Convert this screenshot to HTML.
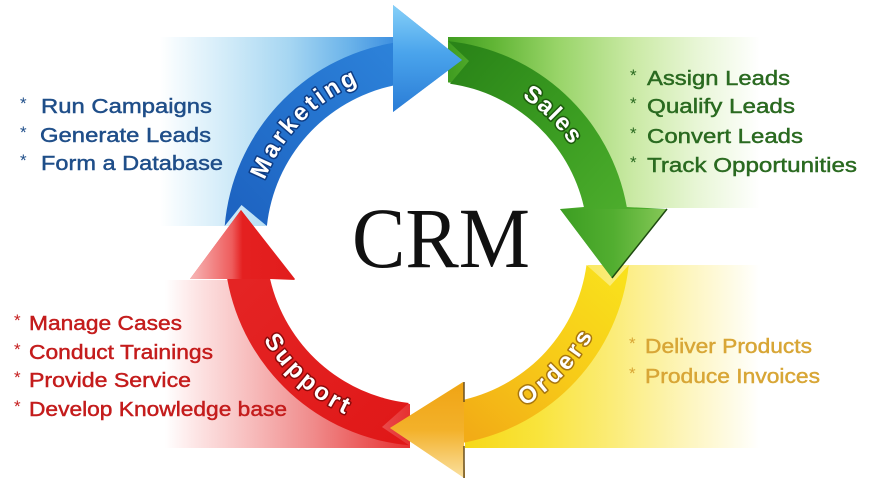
<!DOCTYPE html>
<html>
<head>
<meta charset="utf-8">
<style>
  html,body{margin:0;padding:0;background:#fff;}
  svg{display:block;}
  .lst{font-family:"Liberation Sans",Arial,sans-serif;font-size:20px;stroke-width:0.45px;}
  .lbl{font-family:"Liberation Sans",Arial,sans-serif;font-size:24px;font-weight:bold;fill:#fff;paint-order:stroke;stroke-width:3px;stroke-linejoin:round;}
</style>
</head>
<body>
<svg width="870" height="491" viewBox="0 0 870 491" xmlns="http://www.w3.org/2000/svg">
  <defs>
    <linearGradient id="gBlueBg" gradientUnits="userSpaceOnUse" x1="160" y1="0" x2="395" y2="0">
      <stop offset="0" stop-color="#ffffff"/>
      <stop offset="0.1" stop-color="#eef8fd"/>
      <stop offset="0.3" stop-color="#cfeaf8"/>
      <stop offset="0.55" stop-color="#a6d6f2"/>
      <stop offset="0.8" stop-color="#6cb4ea"/>
      <stop offset="1" stop-color="#3d8fe0"/>
    </linearGradient>
    <linearGradient id="gGreenBg" gradientUnits="userSpaceOnUse" x1="448" y1="0" x2="760" y2="0">
      <stop offset="0" stop-color="#3f9c20"/>
      <stop offset="0.15" stop-color="#62b636"/>
      <stop offset="0.35" stop-color="#98d468"/>
      <stop offset="0.6" stop-color="#cbeaa6"/>
      <stop offset="0.8" stop-color="#e8f6d6"/>
      <stop offset="1" stop-color="#ffffff"/>
    </linearGradient>
    <linearGradient id="gYellowBg" gradientUnits="userSpaceOnUse" x1="465" y1="0" x2="760" y2="0">
      <stop offset="0" stop-color="#f6d818"/>
      <stop offset="0.25" stop-color="#f9e43c"/>
      <stop offset="0.5" stop-color="#fbec78"/>
      <stop offset="0.75" stop-color="#fdf5bc"/>
      <stop offset="1" stop-color="#ffffff"/>
    </linearGradient>
    <linearGradient id="gRedBg" gradientUnits="userSpaceOnUse" x1="165" y1="0" x2="410" y2="0">
      <stop offset="0" stop-color="#ffffff"/>
      <stop offset="0.12" stop-color="#fde6e6"/>
      <stop offset="0.35" stop-color="#f7bcbc"/>
      <stop offset="0.6" stop-color="#f08c8c"/>
      <stop offset="0.85" stop-color="#ea5252"/>
      <stop offset="1" stop-color="#e63030"/>
    </linearGradient>

    <linearGradient id="gBlue" gradientUnits="userSpaceOnUse" x1="230" y1="225" x2="430" y2="40">
      <stop offset="0" stop-color="#1d62c0"/>
      <stop offset="0.5" stop-color="#2574cf"/>
      <stop offset="1" stop-color="#2f86dc"/>
    </linearGradient>
    <linearGradient id="gBlueHead" gradientUnits="userSpaceOnUse" x1="0" y1="5" x2="0" y2="112">
      <stop offset="0" stop-color="#86d0f8"/>
      <stop offset="0.45" stop-color="#4aa4ec"/>
      <stop offset="1" stop-color="#2a7cd6"/>
    </linearGradient>
    <linearGradient id="gGreen" gradientUnits="userSpaceOnUse" x1="450" y1="60" x2="620" y2="210">
      <stop offset="0" stop-color="#2a8418"/>
      <stop offset="0.6" stop-color="#3c9e22"/>
      <stop offset="1" stop-color="#4cac2c"/>
    </linearGradient>
    <linearGradient id="gGreenHead" gradientUnits="userSpaceOnUse" x1="560" y1="0" x2="667" y2="0">
      <stop offset="0" stop-color="#3c9e22"/>
      <stop offset="0.5" stop-color="#52ae30"/>
      <stop offset="1" stop-color="#86c858"/>
    </linearGradient>
    <linearGradient id="gYellow" gradientUnits="userSpaceOnUse" x1="610" y1="270" x2="465" y2="430">
      <stop offset="0" stop-color="#f9e01c"/>
      <stop offset="0.5" stop-color="#f7ca18"/>
      <stop offset="1" stop-color="#f2ac16"/>
    </linearGradient>
    <linearGradient id="gYellowHead" gradientUnits="userSpaceOnUse" x1="0" y1="382" x2="0" y2="478">
      <stop offset="0" stop-color="#f0a414"/>
      <stop offset="0.5" stop-color="#f3b12a"/>
      <stop offset="1" stop-color="#fae0a0"/>
    </linearGradient>
    <linearGradient id="gRed" gradientUnits="userSpaceOnUse" x1="400" y1="440" x2="240" y2="280">
      <stop offset="0" stop-color="#e01818"/>
      <stop offset="1" stop-color="#e42424"/>
    </linearGradient>
    <linearGradient id="gRedHead" gradientUnits="userSpaceOnUse" x1="190" y1="0" x2="295" y2="0">
      <stop offset="0" stop-color="#f7b8b8"/>
      <stop offset="0.4" stop-color="#ee5c5c"/>
      <stop offset="0.5" stop-color="#e42020"/>
      <stop offset="1" stop-color="#e21c1c"/>
    </linearGradient>

    <path id="pM" d="M 259.5 290.1 A 174 174 0 0 1 470.0 74.4" fill="none"/>
    <path id="pS" d="M 380.8 75.2 A 174 174 0 0 1 595.4 286.9" fill="none"/>
    <path id="pO" d="M 382.3 427.7 A 190 190 0 0 0 609.3 189.4" fill="none"/>
    <path id="pSu" d="M 241.2 203.5 A 190 190 0 0 0 485.7 423.7" fill="none"/>
  </defs>

  <rect x="0" y="0" width="870" height="491" fill="#ffffff"/>

  <!-- quadrant gradient backgrounds -->
  <rect x="160" y="37" width="235" height="189" fill="url(#gBlueBg)"/>
  <rect x="448" y="37" width="312" height="171" fill="url(#gGreenBg)"/>
  <rect x="465" y="265" width="295" height="183" fill="url(#gYellowBg)"/>
  <rect x="165" y="280" width="245" height="168" fill="url(#gRedBg)"/>
  <circle cx="427" cy="243" r="162" fill="#ffffff"/>

  <!-- Blue (Marketing) arrow -->
  <path d="M 224.7 226 A 203 203 0 0 1 393 42.9 L 393 5 L 462 60 L 393 112 L 393 85.6 A 161 161 0 0 0 266.9 226 L 241.5 205 Z" fill="url(#gBlue)"/>
  <polygon points="393,5 462,60 393,112" fill="url(#gBlueHead)"/>

  <!-- Green (Sales) arrow -->
  <path d="M 448 41.1 A 203 203 0 0 1 626.8 207 L 667 209 L 612 278 L 560 209 L 583.9 207 A 161 161 0 0 0 450 83.7 L 469 61 Z" fill="url(#gGreen)"/>
  <polygon points="560,209 667,209 612,278" fill="url(#gGreenHead)"/>
  <line x1="667" y1="209" x2="612" y2="278" stroke="#1e4a10" stroke-width="1.5"/>

  <!-- Yellow (Orders) arrow -->
  <path d="M 628.8 265 A 203 203 0 0 1 464 442.6 L 465 478 L 390 428 L 463 382 L 464 399.7 A 161 161 0 0 0 586.5 265 L 610 286 Z" fill="url(#gYellow)"/>
  <polygon points="464,382 464,478 390,428" fill="url(#gYellowHead)"/>
  <line x1="464" y1="382" x2="464" y2="402" stroke="#6a5020" stroke-width="1.5"/>
  <line x1="464" y1="446" x2="464" y2="478" stroke="#6a5020" stroke-width="1.5"/>

  <!-- Red (Support) arrow -->
  <path d="M 409 445.2 A 203 203 0 0 1 227.2 279 L 190 279 L 241 210 L 295 280 L 270.1 279 A 161 161 0 0 0 409 403 L 382 427 Z" fill="url(#gRed)"/>
  <polygon points="190,279 241,210 295,279" fill="url(#gRedHead)"/>

  <!-- Arc labels -->
  <text class="lbl" stroke="#0e3c84" letter-spacing="3.1"><textPath href="#pM" startOffset="50%" text-anchor="middle">Marketing</textPath></text>
  <text class="lbl" stroke="#1d5a0d" letter-spacing="1.6"><textPath href="#pS" startOffset="50%" text-anchor="middle">Sales</textPath></text>
  <text class="lbl" stroke="#a8760e" letter-spacing="4"><textPath href="#pO" startOffset="50%" text-anchor="middle">Orders</textPath></text>
  <text class="lbl" stroke="#8a0a0a" letter-spacing="3.3"><textPath href="#pSu" startOffset="50%" text-anchor="middle">Support</textPath></text>

  <!-- CRM -->
  <text x="352" y="267" font-family="'Liberation Serif','Times New Roman',serif" font-size="86" fill="#111" textLength="178" lengthAdjust="spacingAndGlyphs">CRM</text>

  <!-- Blue list -->
  <g class="lst" fill="#1f4e89" stroke="#1f4e89">
    <text x="20" y="109" font-size="17" stroke="none">*</text>
    <text x="41" y="113" textLength="171" lengthAdjust="spacingAndGlyphs">Run Campaigns</text>
    <text x="20" y="138" font-size="17" stroke="none">*</text>
    <text x="40" y="142" textLength="171" lengthAdjust="spacingAndGlyphs">Generate Leads</text>
    <text x="20" y="166" font-size="17" stroke="none">*</text>
    <text x="41" y="170" textLength="182" lengthAdjust="spacingAndGlyphs">Form a Database</text>
  </g>

  <!-- Green list -->
  <g class="lst" fill="#2a6a20" stroke="#2a6a20">
    <text x="630" y="81" font-size="17" stroke="none">*</text>
    <text x="647" y="85" textLength="143" lengthAdjust="spacingAndGlyphs">Assign Leads</text>
    <text x="630" y="109" font-size="17" stroke="none">*</text>
    <text x="647" y="113" textLength="148" lengthAdjust="spacingAndGlyphs">Qualify Leads</text>
    <text x="630" y="139" font-size="17" stroke="none">*</text>
    <text x="647" y="143" textLength="156" lengthAdjust="spacingAndGlyphs">Convert Leads</text>
    <text x="630" y="168" font-size="17" stroke="none">*</text>
    <text x="647" y="172" textLength="210" lengthAdjust="spacingAndGlyphs">Track Opportunities</text>
  </g>

  <!-- Red list -->
  <g class="lst" fill="#c41c1c" stroke="#c41c1c">
    <text x="14" y="326" font-size="17" stroke="none">*</text>
    <text x="29" y="330" textLength="153" lengthAdjust="spacingAndGlyphs">Manage Cases</text>
    <text x="14" y="355" font-size="17" stroke="none">*</text>
    <text x="29" y="359" textLength="184" lengthAdjust="spacingAndGlyphs">Conduct Trainings</text>
    <text x="14" y="383" font-size="17" stroke="none">*</text>
    <text x="29" y="387" textLength="162" lengthAdjust="spacingAndGlyphs">Provide Service</text>
    <text x="14" y="412" font-size="17" stroke="none">*</text>
    <text x="29" y="416" textLength="258" lengthAdjust="spacingAndGlyphs">Develop Knowledge base</text>
  </g>

  <!-- Orange list -->
  <g class="lst" fill="#d8a636" stroke="#d8a636">
    <text x="629" y="349" font-size="17" stroke="none">*</text>
    <text x="645" y="353" textLength="167" lengthAdjust="spacingAndGlyphs">Deliver Products</text>
    <text x="629" y="379" font-size="17" stroke="none">*</text>
    <text x="645" y="383" textLength="175" lengthAdjust="spacingAndGlyphs">Produce Invoices</text>
  </g>
</svg>
</body>
</html>
